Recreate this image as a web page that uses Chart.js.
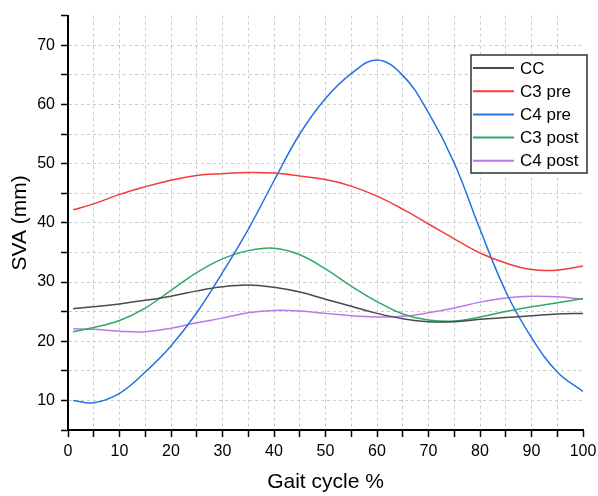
<!DOCTYPE html>
<html>
<head>
    <title>SVA over gait cycle</title>
    <script src="https://cdn.jsdelivr.net/npm/chart.js"></script>
    <style>
        body { margin: 0; background: #fff; }
        #wrap { width: 598px; height: 496px; }
    </style>
</head>
<body>
    <div id="wrap">
        <canvas id="svaChart" width="598" height="496"></canvas>
    </div>

    <script>
        // gait cycle positions (%)
        const gait = [1, 5, 10, 15, 20, 25, 30, 35, 40, 45, 50, 55, 60, 65, 70, 75, 80, 85, 90, 95, 100];

        // SVA values (mm)
        const cc     = [25.5, 25.8, 26.3, 26.9, 27.6, 28.5, 29.2, 29.5, 29.1, 28.3, 27.1, 25.9, 24.7, 23.8, 23.3, 23.3, 23.7, 24.0, 24.3, 24.6, 24.7];
        const c3pre  = [42.2, 43.2, 44.8, 46.1, 47.2, 48.0, 48.3, 48.5, 48.4, 47.9, 47.3, 46.2, 44.5, 42.3, 39.8, 37.3, 34.9, 33.2, 32.1, 32.0, 32.7];
        const c4pre  = [10.0, 9.6, 11.2, 14.8, 19.2, 24.8, 31.6, 38.9, 47.1, 55.0, 61.0, 65.2, 67.5, 64.9, 58.6, 50.1, 38.9, 28.4, 20.6, 14.8, 11.5];
        const c3post = [21.6, 22.3, 23.5, 25.6, 28.6, 31.6, 33.9, 35.3, 35.7, 34.6, 32.2, 29.3, 26.7, 24.6, 23.6, 23.4, 24.1, 25.0, 25.8, 26.5, 27.2];
        const c4post = [22.1, 22.0, 21.7, 21.6, 22.2, 23.1, 23.9, 24.8, 25.2, 25.1, 24.7, 24.3, 24.1, 24.2, 24.8, 25.6, 26.6, 27.3, 27.6, 27.5, 27.1];

        const seriesNames  = ['CC', 'C3 pre', 'C4 pre', 'C3 post', 'C4 post'];
        const seriesColors = ['#4a4a4a', '#f23c3c', '#2272e3', '#2fa866', '#b97ae6'];
        const seriesData   = [cc, c3pre, c4pre, c3post, c4post];

        const datasets = seriesData.map((vals, i) => ({
            label: seriesNames[i],
            data: vals.map((v, j) => ({ x: gait[j], y: v })),
            borderColor: seriesColors[i],
            borderWidth: 1.5,
            pointRadius: 0,
            fill: false,
            tension: 0.4
        }));

        // legend box drawn over the plot, like the original figure
        const boxLegend = {
            id: 'boxLegend',
            afterDraw(chart) {
                const ctx = chart.ctx;
                ctx.save();
                ctx.fillStyle = '#fff';
                ctx.fillRect(471, 55, 116, 118);
                ctx.strokeStyle = '#333';
                ctx.lineWidth = 1.5;
                ctx.strokeRect(471, 55, 116, 118);
                ctx.font = '17px "Liberation Sans", Arial, sans-serif';
                ctx.textBaseline = 'middle';
                chart.data.datasets.forEach((ds, i) => {
                    const y = 68 + i * 23.2;
                    ctx.strokeStyle = ds.borderColor;
                    ctx.lineWidth = 2;
                    ctx.beginPath();
                    ctx.moveTo(473, y);
                    ctx.lineTo(514, y);
                    ctx.stroke();
                    ctx.fillStyle = '#000';
                    ctx.fillText(ds.label, 520, y + 1);
                });
                ctx.restore();
            }
        };

        const tickFont = { family: '"Liberation Sans", Arial, sans-serif', size: 16 };
        const titleFont = { family: '"Liberation Sans", Arial, sans-serif', size: 21 };

        const ctx = document.getElementById('svaChart').getContext('2d');
        const chart = new Chart(ctx, {
            type: 'line',
            data: { datasets: datasets },
            plugins: [boxLegend],
            options: {
                responsive: false,
                animation: false,
                layout: { padding: { top: 15, right: 15, left: 0, bottom: 0 } },
                plugins: {
                    legend: { display: false },
                    tooltip: { enabled: false }
                },
                scales: {
                    x: {
                        type: 'linear',
                        min: 0,
                        max: 100,
                        afterFit: (s) => { s.height = 66; s.paddingRight = 0; },
                        ticks: {
                            stepSize: 5,
                            autoSkip: false,
                            maxRotation: 0,
                            padding: 5,
                            color: '#000',
                            font: tickFont,
                            callback: (v) => (v % 10 === 0 ? v : '')
                        },
                        grid: {
                            color: (c) => (c.tick && c.tick.value > 0 && c.tick.value < 100 ? '#cccccc' : 'rgba(0,0,0,0)'),
                            lineWidth: 1,
                            tickColor: '#000',
                            tickLength: 7,
                            tickWidth: 1.5
                        },
                        border: { color: '#000', width: 2, dash: [3, 3] },
                        title: {
                            display: true,
                            text: 'Gait cycle %',
                            color: '#000',
                            font: titleFont,
                            padding: { top: 0, bottom: 1 }
                        }
                    },
                    y: {
                        min: 5,
                        max: 75,
                        afterFit: (s) => { s.width = 68; },
                        ticks: {
                            stepSize: 5,
                            autoSkip: false,
                            padding: 6,
                            color: '#000',
                            font: tickFont,
                            callback: (v) => (v % 10 === 0 ? v : '')
                        },
                        grid: {
                            color: (c) => (c.tick && c.tick.value > 5 && c.tick.value < 75 ? '#cccccc' : 'rgba(0,0,0,0)'),
                            lineWidth: 1,
                            tickColor: '#000',
                            tickLength: 7,
                            tickWidth: 1.5
                        },
                        border: { color: '#000', width: 2, dash: [3, 3] },
                        title: {
                            display: true,
                            text: 'SVA (mm)',
                            color: '#000',
                            font: titleFont,
                            padding: { top: 8, bottom: 0 }
                        }
                    }
                }
            }
        });
    </script>
</body>
</html>
